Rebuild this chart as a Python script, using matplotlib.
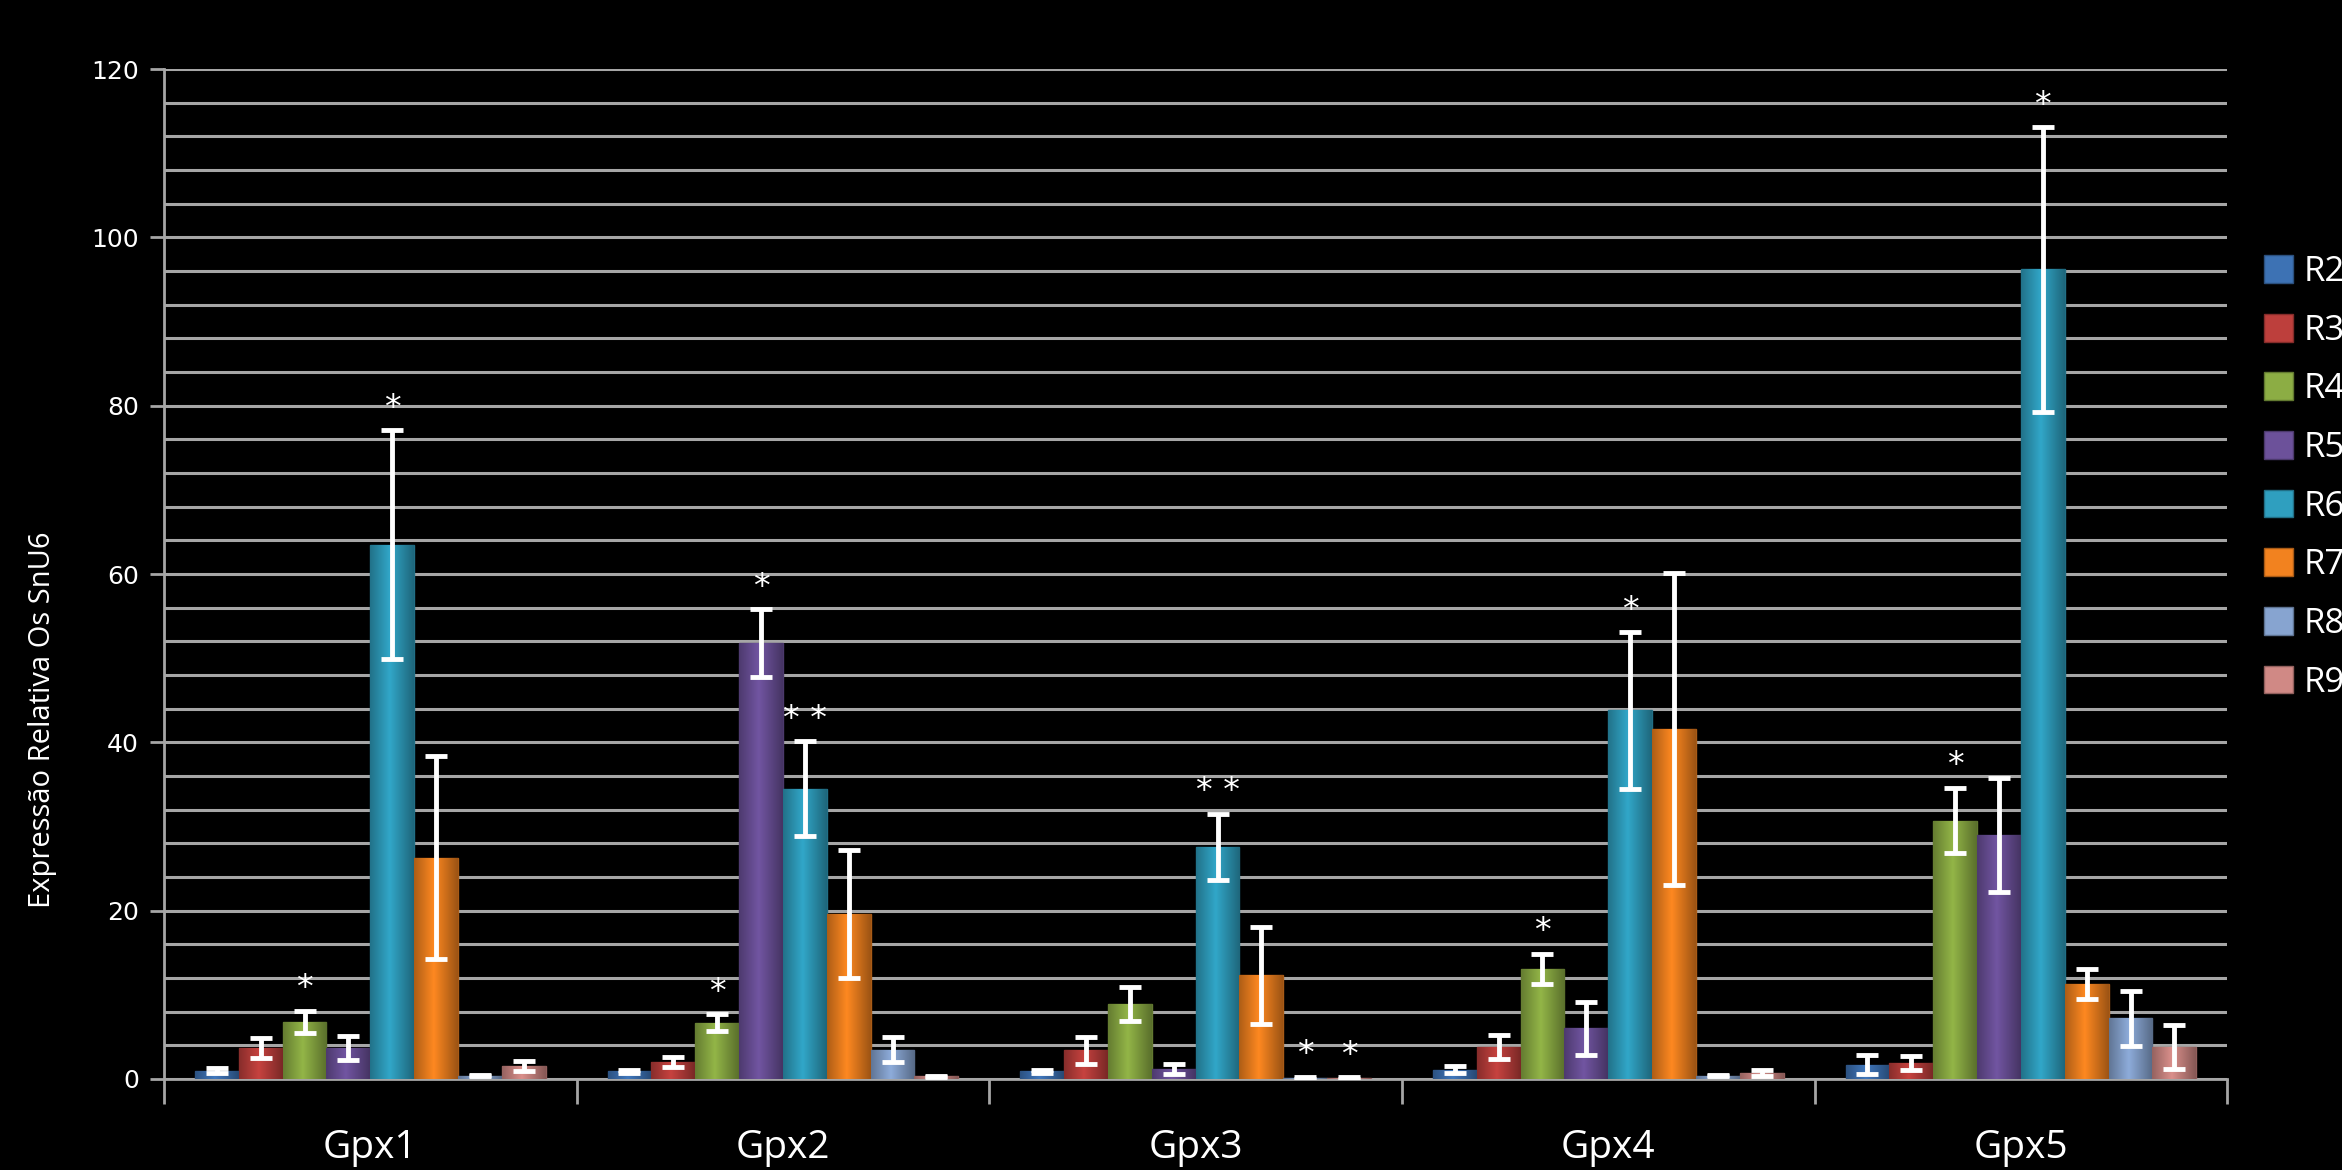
import numpy as np
import matplotlib
matplotlib.use("Agg")
import matplotlib.pyplot as plt
from matplotlib.patches import Patch
from matplotlib.colors import to_rgb

genes = ["Gpx1", "Gpx2", "Gpx3", "Gpx4", "Gpx5"]
series = ["R2", "R3", "R4", "R5", "R6", "R7", "R8", "R9"]

# values per series across genes
R2 = [1.0, 0.9, 0.9, 1.1, 1.7]
R3 = [3.7, 2.0, 3.4, 3.8, 1.9]
R4 = [6.8, 6.7, 8.9, 13.1, 30.7]
R5 = [3.7, 51.8, 1.2, 6.0, 29.0]
R6 = [63.5, 34.5, 27.6, 43.8, 96.2]
R7 = [26.3, 19.6, 12.3, 41.6, 11.3]
R8 = [0.4, 3.5, 0.15, 0.4, 7.2]
R9 = [1.5, 0.3, 0.1, 0.7, 3.8]

E2 = [0.3, 0.2, 0.2, 0.4, 1.1]
E3 = [1.2, 0.6, 1.6, 1.4, 0.8]
E4 = [1.3, 1.0, 2.0, 1.8, 3.9]
E5 = [1.4, 4.0, 0.6, 3.1, 6.8]
E6 = [13.6, 5.6, 3.9, 9.3, 16.9]
E7 = [12.1, 7.6, 5.8, 18.5, 1.8]
E8 = [0.1, 1.5, 0.1, 0.1, 3.3]
E9 = [0.6, 0.1, 0.1, 0.4, 2.6]

values = [R2, R3, R4, R5, R6, R7, R8, R9]
errors = [E2, E3, E4, E5, E6, E7, E8, E9]

# significance marks: (gene index, series index, text)
marks = [(0, 2, "*"), (0, 4, "*"),
         (1, 2, "*"), (1, 3, "*"), (1, 4, "* *"),
         (2, 4, "* *"), (2, 6, "*"), (2, 7, "*"),
         (3, 2, "*"), (3, 4, "*"),
         (4, 2, "*"), (4, 4, "*")]

colors = ["#3d72b4", "#bd3f3c", "#8cad44", "#6c519a", "#2f9fbf", "#f2821f", "#87a4d0", "#d08985"]

ylabel = "Expressão Relativa Os SnU6"

fig = plt.figure(figsize=(23.42, 11.70), dpi=100, facecolor="black")
ax = fig.add_axes([0.070, 0.0778, 0.881, 0.8632])
ax.set_facecolor("black")

n = len(series)
bw = 0.85 / n
x = np.arange(len(genes))

grad = np.linspace(0, 1, 64)
shade = 1 - 0.35 * np.abs(grad - 0.45) * 2

for i, (vals, errs, c) in enumerate(zip(values, errors, colors)):
    pos = x - 0.425 + bw * (i + 0.5)
    bars = ax.bar(pos, vals, width=bw, color=c, edgecolor=tuple(np.array(to_rgb(c)) * 0.7),
                  linewidth=1.0, zorder=3)
    base = np.array(to_rgb(c))
    img = np.clip(base[None, None, :] * shade[None, :, None] * 1.05, 0, 1)
    for b in bars:
        x0, y0 = b.get_x(), b.get_y()
        w, h = b.get_width(), b.get_height()
        im = ax.imshow(img, extent=[x0, x0 + w, y0, y0 + h], aspect="auto", zorder=3.5,
                       interpolation="bilinear")
        im.set_clip_path(b)
    ax.errorbar(pos, vals, yerr=errs, fmt="none", ecolor="white", elinewidth=3.5,
                capsize=8, capthick=3.5, zorder=5)

for gi, si, txt in marks:
    pos = x[gi] - 0.425 + bw * (si + 0.5)
    top = values[si][gi] + errors[si][gi]
    ax.annotate(txt, (pos, top), xytext=(0, 4), textcoords="offset points",
                ha="center", va="bottom", color="white", fontsize=24, zorder=6)

ax.set_xlim(-0.5, len(genes) - 0.5)
ax.set_ylim(0, 120)
ax.set_yticks(np.arange(0, 121, 20))
ax.set_yticks(np.arange(0, 121, 4), minor=True)
ax.yaxis.grid(True, which="both", color="#a6a6a6", linewidth=2.2)
ax.set_axisbelow(True)
ax.tick_params(axis="y", which="major", colors="#a6a6a6", length=10, width=2,
               labelcolor="white", labelsize=18, pad=8)
ax.tick_params(axis="y", which="minor", length=0)
for lab in ax.get_yticklabels():
    lab.set_family(["DejaVu Sans"])

ax.set_xticks(x)
ax.set_xticklabels(genes)
ax.tick_params(axis="x", which="major", length=0, labelcolor="white", labelsize=28, pad=36)
for lab in ax.get_xticklabels():
    lab.set_family(["Open Sans", "DejaVu Sans"])
ax.set_xticks(np.arange(-0.5, len(genes), 1), minor=True)
ax.tick_params(axis="x", which="minor", length=18, width=2, color="#a6a6a6", direction="out")

for s in ["top", "right"]:
    ax.spines[s].set_visible(False)
ax.spines["left"].set_color("#a6a6a6")
ax.spines["left"].set_linewidth(2)
ax.spines["bottom"].set_color("#a6a6a6")
ax.spines["bottom"].set_linewidth(2)

ax.set_ylabel(ylabel, color="white", fontsize=21,
              family=["Liberation Sans Narrow", "Open Sans", "DejaVu Sans"])
ax.yaxis.set_label_coords(-0.052, 0.356)

handles = [Patch(facecolor=c, edgecolor=tuple(np.array(to_rgb(c)) * 0.7), label=s)
           for c, s in zip(colors, series)]
leg = fig.legend(handles=handles, loc="upper left", bbox_to_anchor=(0.9665, 0.782),
                 frameon=False, handlelength=0.85, handleheight=0.85,
                 handletextpad=0.3, labelspacing=0.71, borderaxespad=0, borderpad=0,
                 prop={"family": ["Open Sans", "DejaVu Sans"], "size": 25})
for t in leg.get_texts():
    t.set_color("white")

fig.savefig("out.png", dpi=100, facecolor="black")
